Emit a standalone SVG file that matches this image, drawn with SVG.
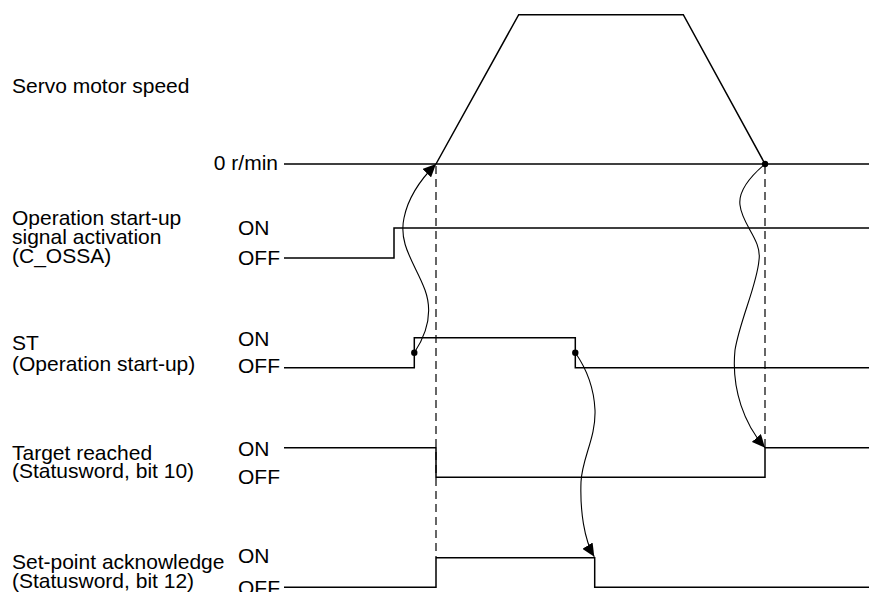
<svg xmlns="http://www.w3.org/2000/svg" width="869" height="592" viewBox="0 0 869 592">
<style>
text{font-family:"Liberation Sans",Arial,sans-serif;font-size:21px;fill:#000}
.sig{fill:none;stroke:#000;stroke-width:1.5}
.dash{fill:none;stroke:#000;stroke-width:1.2;stroke-dasharray:8 5}
.cur{fill:none;stroke:#000;stroke-width:1.1}
</style>
<defs>
<marker id="ah" markerUnits="userSpaceOnUse" markerWidth="14" markerHeight="12" refX="13" refY="6" orient="auto">
<path d="M0,0 L13,6 L0,12 z" fill="#000"/>
</marker>
</defs>
<rect width="869" height="592" fill="#fff"/>
<g id="speed">
<text x="12" y="93">Servo motor speed</text>
<text x="278" y="170" text-anchor="end">0 r/min</text>
<path class="sig" stroke-width="2" d="M284,164 H436 M765,164 H869"/>
<path class="sig" stroke-width="1.3" d="M436,164 H765"/>
<path class="sig" d="M436,164 L518.7,14.7 H683.3 L765,164"/>
</g>
<g id="cossa">
<text x="12" y="225">Operation start-up</text>
<text x="12" y="244">signal activation</text>
<text x="12" y="263">(C_OSSA)</text>
<text x="238" y="235">ON</text>
<text x="238" y="265">OFF</text>
<path class="sig" d="M284,258 H394 V228 H869"/>
</g>
<g id="st">
<text x="12" y="350">ST</text>
<text x="12" y="371">(Operation start-up)</text>
<text x="238" y="346">ON</text>
<text x="238" y="373">OFF</text>
<path class="sig" d="M284,367.7 H414.3 V337.7 H575.3 V367.7 H869"/>
</g>
<g id="target">
<text x="12" y="460">Target reached</text>
<text x="12" y="478">(Statusword, bit 10)</text>
<text x="238" y="456">ON</text>
<text x="238" y="484">OFF</text>
<path class="sig" d="M284,447.7 H436 V477.3 H765 V447.7 H869"/>
</g>
<g id="setpoint">
<text x="12" y="569">Set-point acknowledge</text>
<text x="12" y="588">(Statusword, bit 12)</text>
<text x="238" y="563">ON</text>
<text x="238" y="595">OFF</text>
<path class="sig" d="M284,587.3 H436 V557.7 H594.7 V587.3 H869"/>
</g>
<g id="connectors">
<path class="dash" d="M436,166 V557"/>
<path class="dash" d="M765,166 V447"/>
<circle cx="414.3" cy="352.7" r="3.2" fill="#000"/>
<circle cx="575.3" cy="352.7" r="3.2" fill="#000"/>
<circle cx="765" cy="164" r="3.2" fill="#000"/>
<path class="cur" marker-end="url(#ah)" d="M414.3,352.7 C428,332 433,312 425,290 C416,265 398,245 404,218 C408,198 420,180 436,164"/>
<path class="cur" marker-end="url(#ah)" d="M575.3,352.7 C586,368 594,388 595,410 C596,438 582,458 581,482 C580,510 584,540 594.3,556.7"/>
<path class="cur" marker-end="url(#ah)" d="M765,164 C752,175 738,190 740,205 C742,225 762,240 759,260 C757,285 740,320 735,350 C731,390 745,425 765,447.7"/>
</g>
</svg>
